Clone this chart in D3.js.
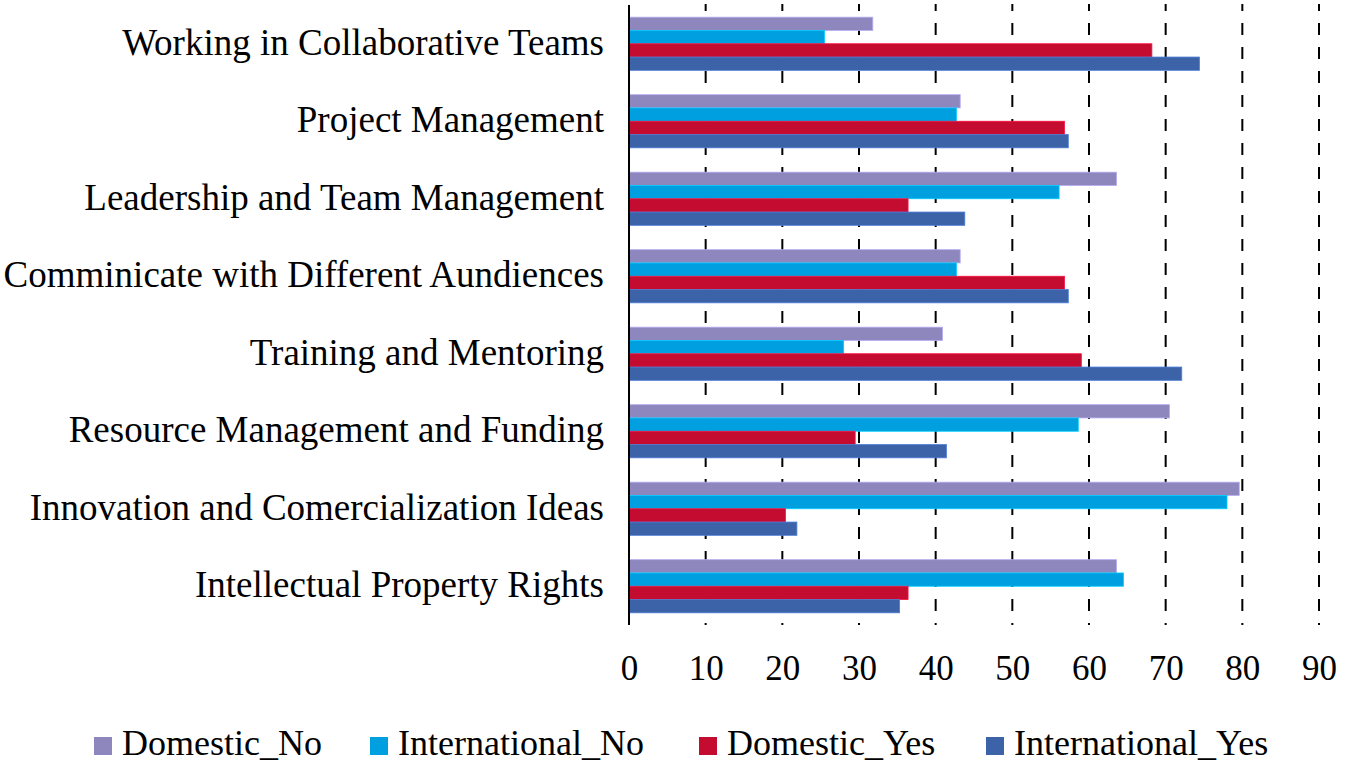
<!DOCTYPE html>
<html>
<head>
<meta charset="utf-8">
<script src="https://cdn.jsdelivr.net/npm/d3@7"></script>
<style>
  html, body { margin: 0; padding: 0; background: #fff; }
  svg { display: block; font-family: "Liberation Serif", "DejaVu Serif", serif; }
</style>
</head>
<body>
<div id="chart"></div>
<script>
// categories top to bottom
const categories = [
    'Working in Collaborative Teams',
    'Project Management',
    'Leadership and Team Management',
    'Comminicate with Different Aundiences',
    'Training and Mentoring',
    'Resource Management and Funding',
    'Innovation and Comercialization Ideas',
    'Intellectual Property Rights'
];

const seriesNames = ['Domestic_No', 'International_No', 'Domestic_Yes', 'International_Yes'];
const seriesColors = ['#8E87BD', '#009FE0', '#C30C30', '#3C62A8'];

// values per series, same order as categories
const domesticNo      = [31.8, 43.2, 63.6, 43.2, 40.9, 70.5, 79.6, 63.6];
const internationalNo = [25.5, 42.7, 56.1, 42.7, 28.0, 58.6, 78.0, 64.5];
const domesticYes     = [68.2, 56.8, 36.4, 56.8, 59.0, 29.5, 20.4, 36.4];
const internationalYes = [74.4, 57.3, 43.8, 57.3, 72.1, 41.4, 21.9, 35.3];

const xTicks = [0, 10, 20, 30, 40, 50, 60, 70, 80, 90];

const seriesValues = [domesticNo, internationalNo, domesticYes, internationalYes];

const width = 1348, height = 763;
const plot = { left: 629, right: 1319, top: 5, bottom: 625 };

const svg = d3.select('#chart').append('svg')
    .attr('width', width)
    .attr('height', height);

const x = d3.scaleLinear().domain([0, 90]).range([plot.left, plot.right]);
const y = d3.scaleBand().domain(categories)
    .range([plot.top, plot.bottom])
    .paddingInner(0.314)
    .paddingOuter(0.157);
const ySub = d3.scaleBand().domain(seriesNames).range([0, y.bandwidth()]).padding(0);

// dashed gridlines
svg.append('g')
    .selectAll('line')
    .data(xTicks.filter(t => t > 0))
    .join('line')
    .attr('x1', d => x(d)).attr('x2', d => x(d))
    .attr('y1', plot.top - 1).attr('y2', plot.bottom)
    .attr('stroke', '#000')
    .attr('stroke-width', 2)
    .attr('stroke-dasharray', '12,12')
    .attr('stroke-dashoffset', 5);

// bars
const rows = categories.map((c, i) => ({
    cat: c,
    bars: seriesNames.map((s, j) => ({ s, v: seriesValues[j][i], color: seriesColors[j] }))
}));

svg.append('g')
    .selectAll('g')
    .data(rows)
    .join('g')
    .attr('transform', d => `translate(0,${y(d.cat)})`)
    .selectAll('rect')
    .data(d => d.bars)
    .join('rect')
    .attr('x', x(0))
    .attr('y', d => ySub(d.s))
    .attr('width', d => x(d.v) - x(0))
    .attr('height', ySub.bandwidth())
    .attr('fill', d => d.color)
    .attr('stroke', d => d3.color(d.color).brighter(0.7))
    .attr('stroke-width', 0.8);

// vertical axis line
svg.append('line')
    .attr('x1', x(0)).attr('x2', x(0))
    .attr('y1', plot.top).attr('y2', plot.bottom)
    .attr('stroke', '#000')
    .attr('stroke-width', 2);

// category labels
const yAxis = svg.append('g')
    .attr('transform', `translate(${plot.left},0)`)
    .call(d3.axisLeft(y).tickSize(0).tickPadding(25));
yAxis.select('.domain').remove();
yAxis.selectAll('text')
    .attr('font-size', '37px')
    .attr('font-family', '"Liberation Serif", serif')
    .attr('fill', '#000')
    .attr('dy', '0.3em');

// x tick labels
const xAxis = svg.append('g')
    .attr('transform', `translate(0,${plot.bottom})`)
    .call(d3.axisBottom(x).tickValues(xTicks).tickSize(0).tickFormat(d3.format('d')));
xAxis.select('.domain').remove();
xAxis.selectAll('text')
    .attr('y', 55)
    .attr('dy', 0)
    .attr('font-size', '35px')
    .attr('font-family', '"Liberation Serif", serif')
    .attr('fill', '#000');

// legend
const legendX = [94, 370, 699, 986];
const legend = svg.append('g')
    .selectAll('g')
    .data(seriesNames)
    .join('g')
    .attr('transform', (d, i) => `translate(${legendX[i]},737)`);
legend.append('rect')
    .attr('width', 18).attr('height', 18)
    .attr('fill', (d, i) => seriesColors[i]);
legend.append('text')
    .attr('x', 28)
    .attr('y', 18)
    .attr('font-size', '36px')
    .attr('fill', '#000')
    .text(d => d);
</script>
</body>
</html>
